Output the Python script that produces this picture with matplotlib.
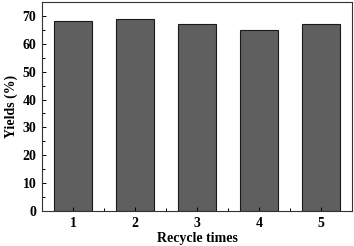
import matplotlib
matplotlib.use("Agg")
import matplotlib.pyplot as plt
from matplotlib.ticker import MultipleLocator

cycles = [1, 2, 3, 4, 5]
yields = [68, 69, 67, 65, 67]
xticklabels = ["1", "2", "3", "4", "5"]

plt.rcParams['font.family'] = ['Liberation Serif', 'DejaVu Serif']
plt.rcParams['font.weight'] = 'bold'

fig = plt.figure(figsize=(3.54, 2.46), dpi=100)
ax = fig.add_axes([0.1186, 0.1423, 0.8758, 0.8496])
ax.bar(cycles, yields, width=0.6, color='#5f5f5f', edgecolor='#1a1a1a', linewidth=0.8)
ax.set_xlim(0.5, 5.5)
ax.set_ylim(0, 75)
ax.set_xticks(cycles)
ax.set_xticklabels(xticklabels)
ax.xaxis.set_minor_locator(MultipleLocator(0.5))
ax.yaxis.set_major_locator(MultipleLocator(10))
ax.yaxis.set_minor_locator(MultipleLocator(5))
ax.tick_params(which='both', direction='in', labelsize=10, width=0.7, top=False, right=False, pad=4)
ax.tick_params(which='major', length=3)
ax.tick_params(which='minor', length=2)
for lab in ax.get_xticklabels() + ax.get_yticklabels():
    lab.set_fontweight('bold')
for s in ax.spines.values():
    s.set_linewidth(0.8)
    s.set_color('#333333')
ax.set_xlabel('Recycle times', fontsize=10, fontweight='bold', labelpad=2)
ax.set_ylabel('Yields (%)', fontsize=10, fontweight='bold', labelpad=3)
fig.savefig('out.png', dpi=100)
